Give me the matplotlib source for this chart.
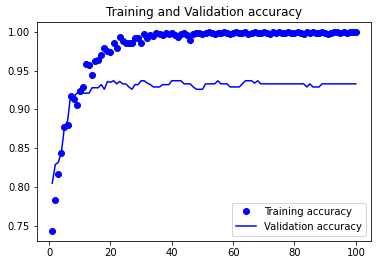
import matplotlib
matplotlib.use('Agg')
import matplotlib.pyplot as plt

# accuracy per epoch
acc = [0.744, 0.783, 0.817, 0.844, 0.878, 0.880, 0.918, 0.914, 0.906, 0.924,
       0.929, 0.959, 0.957, 0.945, 0.963, 0.964, 0.970, 0.979, 0.975, 0.974,
       0.985, 0.979, 0.994, 0.988, 0.986, 0.985, 0.985, 0.992, 0.992, 0.985,
       0.997, 0.992, 0.996, 0.995, 0.998, 0.997, 0.996, 0.999, 0.997, 0.998,
       0.996, 0.993, 0.997, 0.999, 0.996, 0.990, 0.997, 0.998, 0.999, 0.997,
       0.999, 1.000, 0.998, 0.997, 0.999, 0.998, 1.000, 0.999, 0.997, 0.999,
       1.000, 0.998, 0.999, 1.000, 0.997, 0.999, 1.000, 0.999, 0.998, 1.000,
       0.999, 0.997, 1.000, 0.999, 1.000, 0.998, 0.999, 1.000, 0.999, 0.998,
       1.000, 0.999, 0.997, 1.000, 0.999, 1.000, 0.998, 0.999, 1.000, 0.999,
       0.997, 0.999, 1.000, 1.000, 0.999, 1.000, 0.999, 1.000, 1.000, 1.000]

val_acc = [0.805, 0.829, 0.832, 0.845, 0.878, 0.885, 0.918, 0.916, 0.921, 0.921,
           0.921, 0.921, 0.921, 0.928, 0.928, 0.928, 0.932, 0.926, 0.936, 0.935,
           0.937, 0.933, 0.936, 0.933, 0.933, 0.929, 0.926, 0.932, 0.932, 0.937,
           0.937, 0.934, 0.932, 0.929, 0.929, 0.929, 0.932, 0.932, 0.932, 0.937,
           0.937, 0.937, 0.937, 0.933, 0.933, 0.933, 0.929, 0.926, 0.926, 0.926,
           0.933, 0.933, 0.933, 0.933, 0.937, 0.933, 0.933, 0.933, 0.929, 0.929,
           0.929, 0.929, 0.933, 0.937, 0.937, 0.937, 0.934, 0.937, 0.933, 0.933,
           0.933, 0.933, 0.933, 0.933, 0.933, 0.933, 0.933, 0.933, 0.933, 0.933,
           0.933, 0.933, 0.933, 0.929, 0.933, 0.929, 0.929, 0.929, 0.933, 0.933,
           0.933, 0.933, 0.933, 0.933, 0.933, 0.933, 0.933, 0.933, 0.933, 0.933]

epochs = range(1, len(acc) + 1)

fig = plt.figure(figsize=(378 / 72, 264 / 72), dpi=72)
plt.subplots_adjust(left=0.098, right=0.9815, top=0.917, bottom=0.089)

plt.plot(epochs, acc, 'bo', label='Training accuracy')
plt.plot(epochs, val_acc, 'b', label='Validation accuracy')
plt.title('Training and Validation accuracy')
plt.legend(loc='lower right')

plt.savefig('out.png', dpi=72)
